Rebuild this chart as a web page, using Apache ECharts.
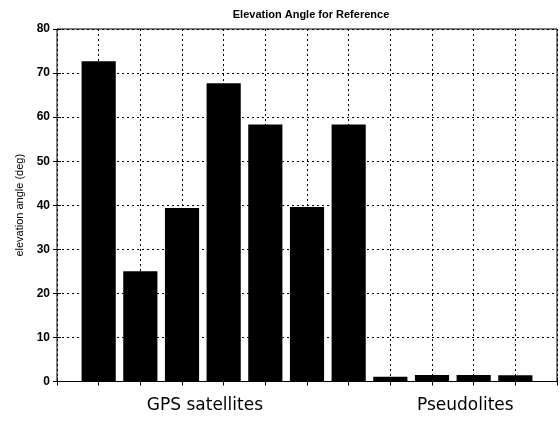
<!DOCTYPE html>
<html>
<head>
<meta charset="utf-8">
<script src="https://cdn.jsdelivr.net/npm/echarts@6/dist/echarts.min.js"></script>
<style>
  html, body { margin: 0; padding: 0; background: #fff; }
  #chart { width: 560px; height: 421px; }
</style>
</head>
<body>
<div id="chart"></div>
<script>
// Bar positions (1..11) and elevation angles in degrees
const positions = [1, 2, 3, 4, 5, 6, 7, 8, 9, 10, 11];
const elevations = [72.7, 25.0, 39.4, 67.7, 58.3, 39.6, 58.3, 1.1, 1.5, 1.5, 1.4];
const yTicks = [0, 10, 20, 30, 40, 50, 60, 70, 80];
const groupLabels = ['GPS satellites', 'Pseudolites'];
const groupCenters = [3.55, 9.8];

const chart = echarts.init(document.getElementById('chart'));
const gridBox = { left: 57, right: 3, top: 29, bottom: 39.5 };
const dotted = { color: '#000', width: 1, type: [2, 3] };

const option = {
  animation: false,
  backgroundColor: '#fff',
  title: {
    text: 'Elevation Angle for Reference',
    left: 306, top: 4, textAlign: 'center',
    textStyle: { fontFamily: 'Liberation Sans', fontSize: 11, fontWeight: 'bold', color: '#000' }
  },
  grid: Object.assign({ show: true, borderColor: '#000', borderWidth: 1, backgroundColor: '#fff' }, gridBox),
  xAxis: [{
    type: 'value', min: 0, max: 12, interval: 1,
    axisLine: { show: false },
    axisTick: { show: true, inside: true, length: 4, lineStyle: { color: '#000' } },
    axisLabel: { show: false },
    splitLine: { show: true, lineStyle: dotted }
  }, {
    type: 'value', min: 0, max: 12, interval: 1, position: 'top',
    axisLine: { show: false },
    axisTick: { show: true, inside: true, length: 4, lineStyle: { color: '#000' } },
    axisLabel: { show: false }, splitLine: { show: false }
  }],
  yAxis: [{
    type: 'value', min: yTicks[0], max: yTicks[yTicks.length - 1], interval: 10,
    name: 'elevation angle (deg)', nameLocation: 'middle', nameGap: 31,
    nameTextStyle: { fontFamily: 'Liberation Sans', fontSize: 11, color: '#000' },
    axisLine: { show: false },
    axisTick: { show: true, inside: true, length: 4, lineStyle: { color: '#000' } },
    axisLabel: { fontFamily: 'Liberation Sans', fontSize: 12, fontWeight: 'bold', color: '#000', margin: 7 },
    splitLine: { show: true, lineStyle: dotted }
  }, {
    type: 'value', min: 0, max: 80, interval: 10, position: 'right',
    axisLine: { show: false },
    axisTick: { show: true, inside: true, length: 4, lineStyle: { color: '#000' } },
    axisLabel: { show: false }, splitLine: { show: false }
  }],
  graphic: groupLabels.map((t, i) => ({
    type: 'text',
    x: 0, y: 0,
    id: 'g' + i,
    style: {
      text: t, fontFamily: 'DejaVu Sans', fontSize: 17, fill: '#000',
      align: 'center', verticalAlign: 'middle'
    }
  })),
  series: [{
    type: 'bar',
    xAxisIndex: 0, yAxisIndex: 0,
    data: positions.map((p, i) => [p, elevations[i]]),
    barWidth: '82%',
    itemStyle: { color: '#000' },
    z: 3
  }]
};
chart.setOption(option);

// Place the group captions under their bar groups using the axis scale
const captionY = chart.convertToPixel({ yAxisIndex: 0 }, 0) + 24;
chart.setOption({
  graphic: groupLabels.map((t, i) => ({
    id: 'g' + i,
    x: chart.convertToPixel({ xAxisIndex: 0 }, groupCenters[i]),
    y: captionY
  }))
});
</script>
</body>
</html>
